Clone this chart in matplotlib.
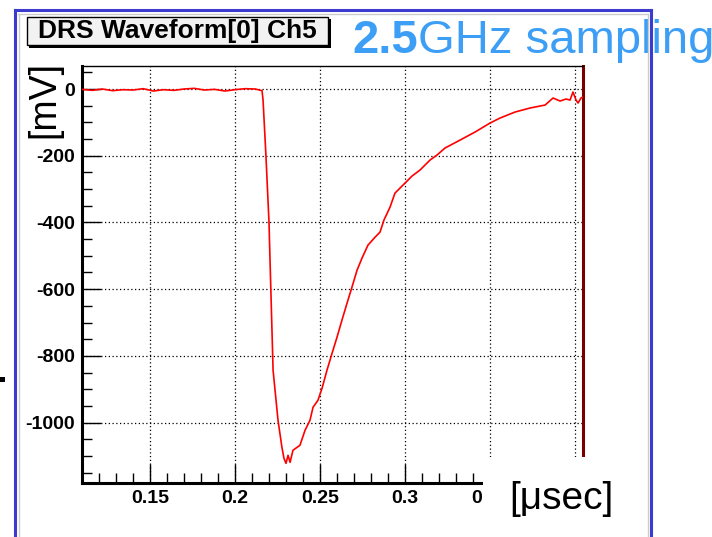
import matplotlib.pyplot as plt
from matplotlib.patches import Rectangle
from matplotlib.lines import Line2D
from matplotlib.ticker import MultipleLocator

plt.rcParams['font.family'] = ['Liberation Sans', 'DejaVu Sans']
plt.rcParams['axes.unicode_minus'] = False

# waveform (time in usec, amplitude in mV)
t_us = [0.110, 0.116, 0.122, 0.128, 0.134, 0.140, 0.146, 0.152, 0.158, 0.164,
        0.170, 0.176, 0.182, 0.188, 0.194, 0.200, 0.206, 0.212, 0.2159,
        0.2165, 0.2182, 0.2200, 0.2206, 0.2224, 0.2253, 0.2276, 0.2288, 0.2300,
        0.2312, 0.2324, 0.2341, 0.2365, 0.2382, 0.2412, 0.2441, 0.2459, 0.2488,
        0.2512, 0.2541, 0.2571, 0.2600, 0.2629, 0.2659, 0.2688, 0.2718, 0.2747,
        0.2782, 0.2824, 0.2853, 0.2876, 0.2912, 0.2941, 0.3000, 0.3041, 0.3088,
        0.3147, 0.3188, 0.3235, 0.3324, 0.3412, 0.3500, 0.3559, 0.3647, 0.3735,
        0.3824, 0.3871, 0.3912, 0.3947, 0.3971, 0.3988, 0.4006, 0.4018, 0.4035,
        0.4047]
amp_mv = [-1, -4, 0, -5, -2, -3, 1, -6, -2, -4,
          0, 2, -3, -1, -6, -2, 1, 0, -5,
          -33, -200, -400, -513, -843, -993, -1074, -1107, -1122,
          -1098, -1119, -1083, -1074, -1068, -1023, -993, -954, -933,
          -897, -843, -792, -744, -693, -642, -594, -543, -507,
          -468, -444, -429, -393, -354, -312, -282, -261, -243,
          -213, -198, -177, -153, -129, -102, -87, -69, -57,
          -48, -27, -36, -30, -33, -9, -33, -42, -27,
          -24]

x_ticks = [0.15, 0.2, 0.25, 0.3, 0.35, 0.4]
x_tick_labels = ['0.15', '0.2', '0.25', '0.3', '0.35', '']  # 0.4 hidden behind the corner

title_text = 'DRS Waveform[0] Ch5'
x_label = '[\u03bcsec]'
y_label = '[mV]'

W, H = 712, 537


def fx(x):
    return x / W


def fy(y):
    return 1 - y / H


fig = plt.figure(figsize=(W / 100, H / 100), dpi=100)

# plot area
ax = fig.add_axes([fx(82), fy(483), fx(583) - fx(82), fy(66) - fy(483)])
ax.plot(t_us, amp_mv, color='#ff0000', lw=1.2, zorder=3)
ax.set_xlim(0.11, 0.4047)
ax.set_ylim(-1181, 69)

ax.xaxis.set_minor_locator(MultipleLocator(0.01))
ax.yaxis.set_major_locator(MultipleLocator(200))
ax.yaxis.set_minor_locator(MultipleLocator(50))
ax.set_xticks(x_ticks)
ax.set_xticklabels(x_tick_labels)

ax.tick_params(which='both', direction='in', top=False, right=False,
               color='black', width=1)
ax.tick_params(which='major', length=14, pad=5, labelsize=14)
ax.tick_params(which='minor', length=7)
for lab in ax.get_xticklabels() + ax.get_yticklabels():
    lab.set_fontweight('bold')

ax.grid(True, which='major', color='black', ls=(0, (1, 2)), lw=0.9)

ax.spines['left'].set_linewidth(2.2)
ax.spines['bottom'].set_linewidth(2.2)
ax.spines['top'].set_linewidth(1)
ax.spines['right'].set_linewidth(2.2)
ax.spines['right'].set_color('#7a0000')

# slide frame
frame_blue = '#3b3bd0'
fig.add_artist(Line2D([fx(15), fx(651)], [fy(10), fy(10)], color=frame_blue, lw=2.2))
fig.add_artist(Line2D([fx(15), fx(15)], [fy(10), 0], color=frame_blue, lw=2.2))
fig.add_artist(Line2D([fx(651), fx(651)], [fy(10), 0], color=frame_blue, lw=2.2, zorder=12))
fig.add_artist(Line2D([fx(18), fx(647)], [fy(13.5), fy(13.5)], color='#cccccc', lw=1))
fig.add_artist(Line2D([fx(18.5), fx(18.5)], [fy(13.5), 0], color='#cccccc', lw=1))
fig.add_artist(Line2D([fx(647.5), fx(647.5)], [fy(13.5), 0], color='#cccccc', lw=1, zorder=12))

# white patch that hides the lower right corner of the frame
fig.add_artist(Rectangle((fx(483), 0), fx(645) - fx(483), fy(457),
                         transform=fig.transFigure, facecolor='white',
                         edgecolor='none', zorder=10))

# title box with shadow
fig.add_artist(Rectangle((fx(29), fy(47.5)), fx(330.5) - fx(29), fy(19) - fy(47.5),
                         transform=fig.transFigure, facecolor='black',
                         edgecolor='none', zorder=5))
fig.add_artist(Rectangle((fx(27), fy(45)), fx(328) - fx(27), fy(17) - fy(45),
                         transform=fig.transFigure, facecolor='#f2f2f2',
                         edgecolor='black', lw=1, zorder=6))
fig.text(fx(177.5), fy(31), title_text, ha='center', va='center',
         fontsize=19, fontweight='bold', zorder=7)

# sampling note
blue = '#3d9ef5'
fig.text(fx(352), fy(53), '2.5', ha='left', va='baseline',
         fontsize=34, fontweight='bold', color=blue)
fig.text(fx(352 + 66), fy(53), 'GHz sampling', ha='left', va='baseline',
         fontsize=34, color=blue)

# axis titles
fig.text(fx(44), fy(100), y_label, rotation=90, ha='center', va='center',
         fontsize=27)
fig.text(fx(561), fy(499), x_label, ha='center', va='center',
         fontsize=28, zorder=11)

# stray marker at the left edge
fig.add_artist(Rectangle((fx(0), fy(382)), fx(5), fy(377) - fy(382),
                         transform=fig.transFigure, facecolor='black',
                         edgecolor='none'))

fig.savefig('out.png', dpi=100)
